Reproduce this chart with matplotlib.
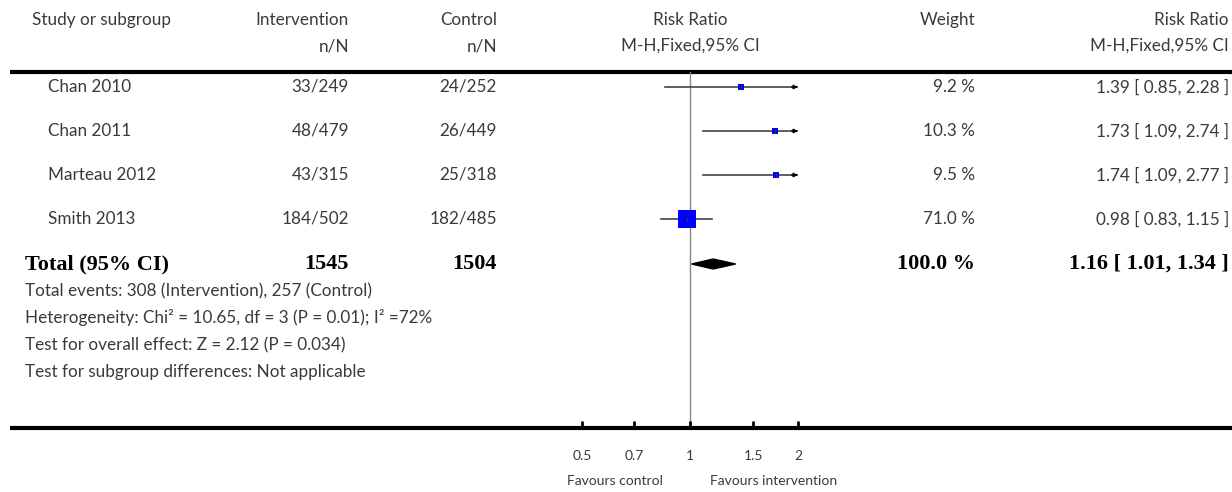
import numpy as np
import matplotlib
matplotlib.use("Agg")
import matplotlib.pyplot as plt
from matplotlib.patches import Polygon

# ---- data ----
studies = ["Chan 2010", "Chan 2011", "Marteau 2012", "Smith 2013"]
int_events = [33, 48, 43, 184]
int_total = [249, 479, 315, 502]
ctl_events = [24, 26, 25, 182]
ctl_total = [252, 449, 318, 485]
rr = [1.39, 1.73, 1.74, 0.98]
rr_low = [0.85, 1.09, 1.09, 0.83]
rr_high = [2.28, 2.74, 2.77, 1.15]
weights = [9.2, 10.3, 9.5, 71.0]
total_int = 1545
total_ctl = 1504
total_rr, total_low, total_high = 1.16, 1.01, 1.34
total_weight = 100.0
footnotes = [
    "Total events: 308 (Intervention), 257 (Control)",
    "Heterogeneity: Chi\u00b2 = 10.65, df = 3 (P = 0.01); I\u00b2 =72%",
    "Test for overall effect: Z = 2.12 (P = 0.034)",
    "Test for subgroup differences: Not applicable",
]
xticks = [0.5, 0.7, 1, 1.5, 2]
xtick_labels = ["0.5", "0.7", "1", "1.5", "2"]

W, H = 1232, 492
fig = plt.figure(figsize=(W / 100, H / 100), dpi=100)
ax = fig.add_axes([0, 0, 1, 1])
ax.set_xlim(0, W)
ax.set_ylim(H, 0)
ax.axis("off")

FONT = "Lato"
SERIF = "Liberation Serif"
TC = "#3a3a3a"
FS = 12.3
FW = "normal"

def t(x, y, s, ha="left", fs=FS):
    ax.text(x, y, s, family=FONT, fontsize=fs, weight=FW, color=TC, va="center", ha=ha)

# headers
hy1, hy2 = 20, 46
t(32, hy1, "Study or subgroup")
t(349, hy1, "Intervention", "right")
t(497, hy1, "Control", "right")
t(690, hy1, "Risk Ratio", "center")
t(975, hy1, "Weight", "right")
t(1229, hy1, "Risk Ratio", "right")
t(349, hy2, "n/N", "right")
t(497, hy2, "n/N", "right")
t(690, hy2, "M-H,Fixed,95% CI", "center")
t(1229, hy2, "M-H,Fixed,95% CI", "right")

top_line, bot_line = 72, 428
ax.plot([10, W], [top_line, top_line], color="black", lw=3, solid_capstyle="butt")
ax.plot([10, W], [bot_line, bot_line], color="black", lw=3, solid_capstyle="butt")

row_y = [87 + 44 * i for i in range(len(studies))]
for i, s in enumerate(studies):
    y = row_y[i]
    t(48, y, s)
    t(349, y, f"{int_events[i]}/{int_total[i]}", "right")
    t(497, y, f"{ctl_events[i]}/{ctl_total[i]}", "right")
    t(975, y, f"{weights[i]:.1f} %", "right")
    t(1229, y, f"{rr[i]:.2f} [ {rr_low[i]:.2f}, {rr_high[i]:.2f} ]", "right")

ty = 264
BFS = 16
def tb(x, s, ha):
    ax.text(x, ty, s, family=SERIF, fontsize=BFS, weight="bold", color="black", va="center", ha=ha)

tb(25, "Total (95% CI)", "left")
tb(349, f"{total_int}", "right")
tb(497, f"{total_ctl}", "right")
tb(975, f"{total_weight:.1f} %", "right")
tb(1229, f"{total_rr:.2f} [ {total_low:.2f}, {total_high:.2f} ]", "right")

for j, f in enumerate(footnotes):
    t(25, 291 + 27 * j, f)

# ---- forest axes ----
fx0, fx1 = 582, 798
fax = fig.add_axes([fx0 / W, 1 - bot_line / H, (fx1 - fx0) / W, (bot_line - top_line) / H])
fax.set_xscale("log")
fax.set_xlim(0.5, 2)
fax.set_ylim(bot_line, top_line)
fax.patch.set_alpha(0)
for sp in fax.spines.values():
    sp.set_visible(False)
fax.set_yticks([])
fax.set_xticks(xticks)
fax.set_xticklabels(xtick_labels, family=FONT, fontsize=10, weight=FW, color=TC)
fax.minorticks_off()
fax.tick_params(axis="x", direction="in", length=5, width=2, pad=16, color="black")
fax.axvline(1, color="#888888", lw=1, zorder=1)

xmin, xmax = 0.5, 2
for i in range(len(studies)):
    y = row_y[i]
    lo = max(rr_low[i], xmin)
    hi = min(rr_high[i], xmax)
    fax.plot([lo, hi], [y, y], color="#444444", lw=1.2, zorder=2)
    if rr_high[i] > xmax:
        fax.annotate("", xy=(xmax, y), xytext=(xmax * 0.96, y),
                     arrowprops=dict(arrowstyle="-|>", color="black", lw=1, mutation_scale=6, shrinkA=0, shrinkB=0), zorder=3)
    side_px = 2.14 * np.sqrt(weights[i])
    side_pt = side_px * 0.72
    fax.scatter([rr[i]], [y], marker="s", s=side_pt ** 2, color="#0000ff", linewidths=0, zorder=4)
    fax.plot([rr[i], rr[i]], [y - 2, y + 2], color="#333333", lw=0.8, zorder=5)

# diamond
dh = 5
diamond = Polygon([[total_low, ty], [total_rr, ty - dh], [total_high, ty], [total_rr, ty + dh]],
                  closed=True, color="black", zorder=4)
fax.add_patch(diamond)

t(663, 481, "Favours control", "right", 10)
t(710, 481, "Favours intervention", "left", 10)

fig.savefig("out.png", dpi=100)
